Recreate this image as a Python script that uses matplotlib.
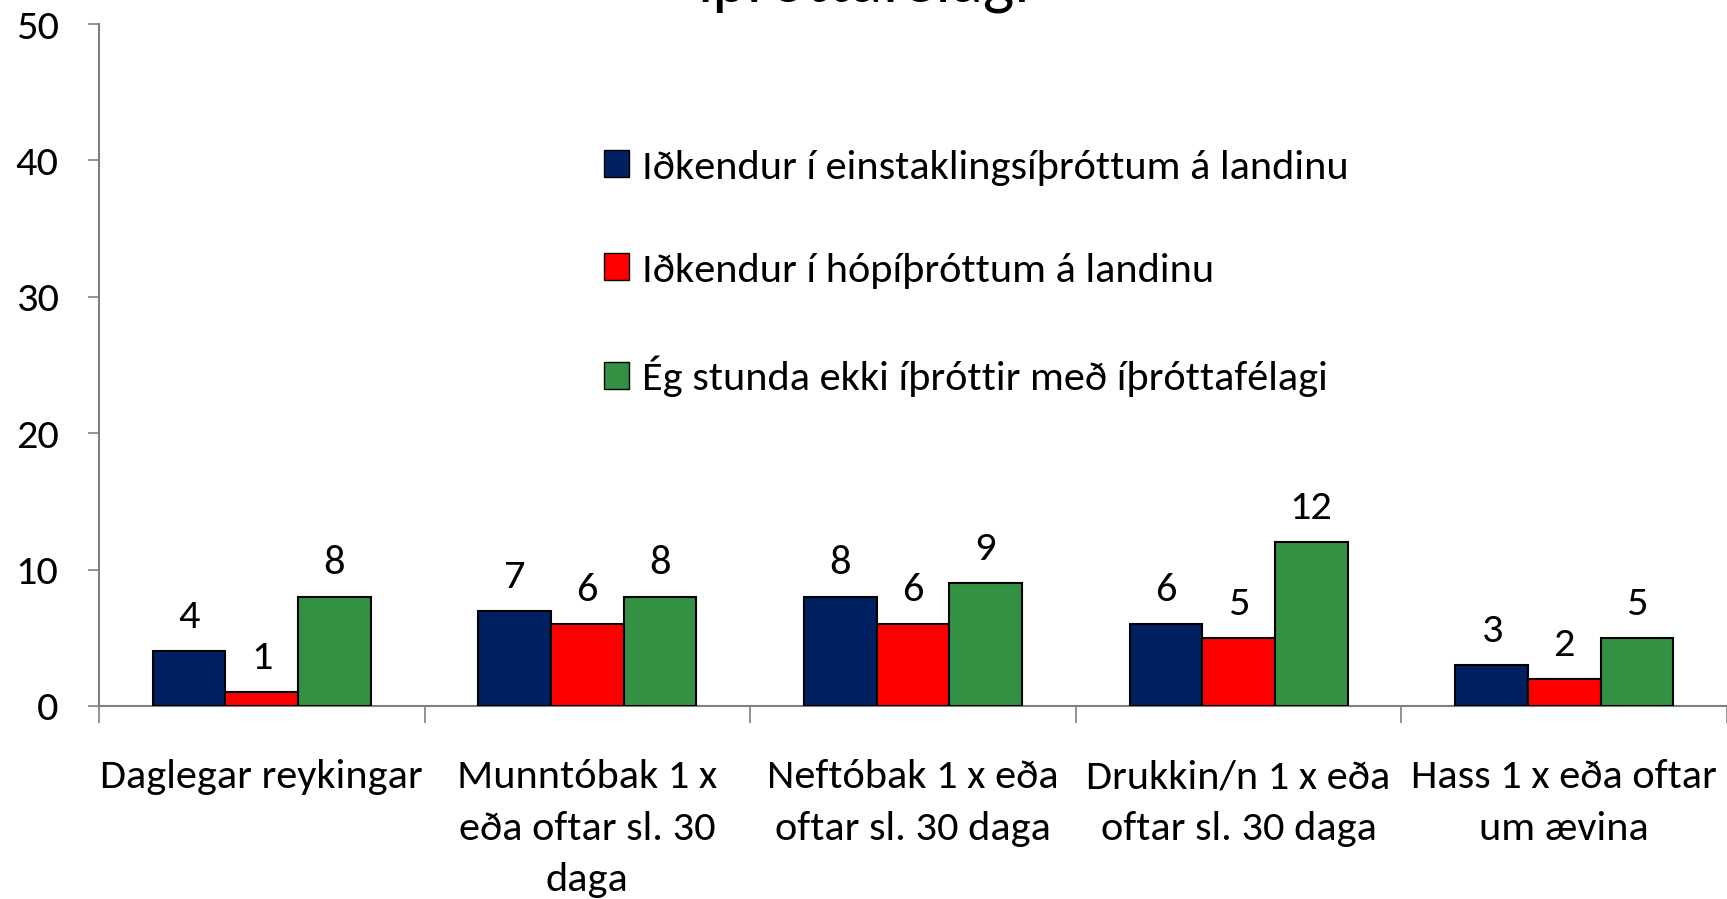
import matplotlib
matplotlib.use("Agg")
import matplotlib.pyplot as plt
from matplotlib import font_manager as fm
from matplotlib.patches import Patch

# pick a Calibri-like font if one is installed
font = "DejaVu Sans"
for cand in ["Carlito", "Liberation Sans Narrow", "Open Sans Condensed", "Roboto Condensed", "Lato"]:
    try:
        fm.findfont(fm.FontProperties(family=cand), fallback_to_default=False)
        font = cand
        break
    except ValueError:
        pass
plt.rcParams['font.family'] = [font, 'DejaVu Sans']

categories = [
    "Daglegar reykingar",
    "Munntóbak 1 x\neða oftar sl. 30\ndaga",
    "Neftóbak 1 x eða\noftar sl. 30 daga",
    "Drukkin/n 1 x eða\noftar sl. 30 daga",
    "Hass 1 x eða oftar\num ævina",
]
series_names = [
    "Iðkendur í einstaklingsíþróttum á landinu",
    "Iðkendur í hópíþróttum á landinu",
    "Ég stunda ekki íþróttir með íþróttafélagi",
]
einstaklings = [4, 7, 8, 6, 3]
hop = [1, 6, 6, 5, 2]
ekki = [8, 8, 9, 12, 5]
colors = ["#002060", "#FF0000", "#339143"]
title = "íþróttafélagi"

fig = plt.figure(figsize=(17.27, 8.99), dpi=100)
ax = fig.add_axes([0.0573, 0.2147, 0.9427, 0.7586])

fs = 30.5
w = 0.223
x = list(range(len(categories)))
for i, (vals, col) in enumerate(zip([einstaklings, hop, ekki], colors)):
    pos = [xi + (i - 1) * w for xi in x]
    bars = ax.bar(pos, vals, width=w, color=col, edgecolor="black", linewidth=1.5, zorder=3)
    for b, v in zip(bars, vals):
        ax.annotate(str(v), (b.get_x() + b.get_width() / 2, v), xytext=(0, 23),
                    textcoords="offset pixels", ha="center", va="baseline", fontsize=fs)

ax.set_xlim(-0.5, len(categories) - 0.5)
ax.set_ylim(0, 50)
ax.set_yticks(range(0, 51, 10))
ax.tick_params(axis="y", labelsize=fs, color="#808080", length=8, width=1.2, pad=21)
ax.set_xticks([xi - 0.5 for xi in x] + [len(categories) - 0.5])
ax.set_xticklabels([])
ax.tick_params(axis="x", color="#808080", length=12, width=1.2)
for xi, lab in zip(x, categories):
    ax.text(xi, -3.9, lab, ha="center", va="top", fontsize=fs, linespacing=1.53)

for s in ["top", "right"]:
    ax.spines[s].set_visible(False)
for s in ["left", "bottom"]:
    ax.spines[s].set_color("#808080")
    ax.spines[s].set_linewidth(1.5)

handles = [Patch(facecolor=c, edgecolor="black", linewidth=1) for c in colors]
fig.legend(handles, series_names, loc="upper left", bbox_to_anchor=(0.3375, 0.857),
           frameon=False, fontsize=fs, labelspacing=1.58, handlelength=0.6,
           handleheight=0.6, handletextpad=0.3, borderpad=0)

# only the bottom of the last title line shows in the original
fig.text(0.5, 1 - 1.5 / 899, title, ha="center", va="baseline", fontsize=48)

fig.savefig("out.png", dpi=100)
